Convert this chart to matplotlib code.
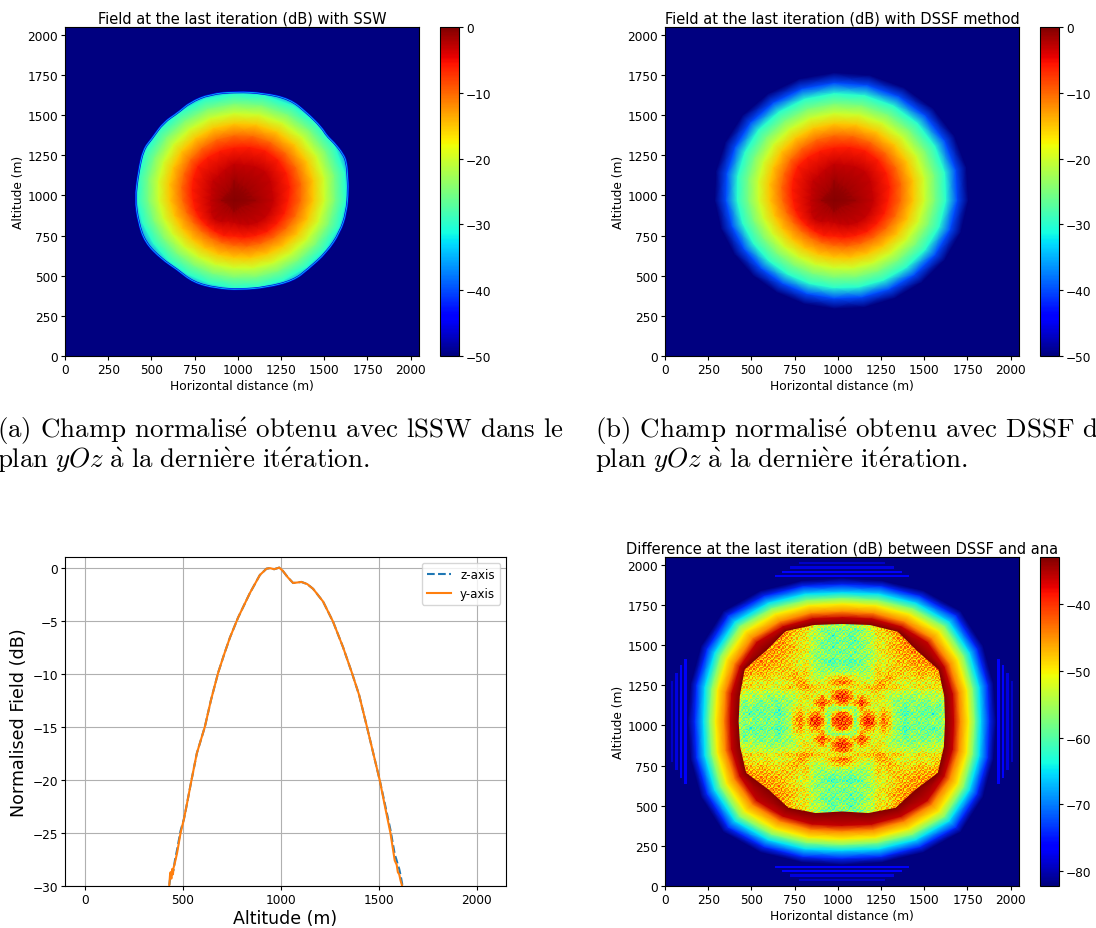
#%% Import the required libraries
import numpy as np
import matplotlib
matplotlib.use('Agg')
import matplotlib.pyplot as plt
from matplotlib.patches import Polygon, PathPatch
from matplotlib.path import Path

plt.rcParams['mathtext.fontset'] = 'cm'

#%% Data
ticks = [0, 250, 500, 750, 1000, 1250, 1500, 1750, 2000]
directions = np.arange(0, 375, 15)   # degrees, last one closes the ring

# contour radius (m) around the field peak, one value per direction
ring_50 = [775, 791, 802, 809, 810, 805, 794, 782, 765, 748, 725, 706, 689, 676, 666, 661, 660, 665, 672, 686, 701, 718, 738, 758]
ring_40 = [710, 726, 737, 744, 745, 740, 729, 717, 700, 683, 660, 641, 624, 611, 601, 596, 595, 600, 607, 621, 636, 653, 673, 693]
ring_30 = [645, 661, 672, 679, 680, 675, 664, 652, 635, 618, 595, 576, 559, 546, 536, 531, 530, 535, 542, 556, 571, 588, 608, 628]
ring_25 = [580, 596, 607, 614, 615, 610, 599, 587, 570, 553, 530, 511, 494, 481, 471, 466, 465, 470, 477, 491, 506, 523, 543, 563]
ring_20 = [520, 536, 547, 554, 555, 550, 539, 527, 510, 493, 470, 451, 434, 421, 411, 406, 405, 410, 417, 431, 446, 463, 483, 503]
ring_15 = [455, 471, 482, 489, 490, 485, 474, 462, 445, 428, 405, 386, 369, 356, 346, 341, 340, 345, 352, 366, 381, 398, 418, 438]
ring_10 = [382, 398, 409, 416, 417, 412, 401, 389, 372, 355, 332, 313, 296, 283, 273, 268, 267, 272, 279, 293, 308, 325, 345, 365]
ring_6 = [310, 330, 345, 355, 355, 340, 325, 315, 305, 295, 270, 250, 235, 230, 225, 220, 220, 225, 220, 235, 250, 270, 285, 300]
ring_3 = [225, 225, 240, 250, 240, 225, 225, 195, 175, 170, 150, 135, 135, 135, 150, 160, 150, 130, 135, 150, 170, 190, 205, 215]
ring_1 = [125, 105, 100, 100, 100, 105, 125, 75, 60, 60, 60, 65, 75, 55, 45, 45, 45, 55, 70, 60, 55, 55, 65, 90]
ring_0 = [0] * 24
field_levels = [-50, -40, -30, -25, -20, -15, -10, -6, -3, -1.5, 0]

# outline of the SSW field (m)
ssw_edge_x = [1639, 1635, 1629, 1610, 1556, 1514, 1485, 1398, 1301, 1147, 993, 839, 723, 656, 569, 501, 453, 424, 405, 424, 463, 559, 646, 742, 877, 1012, 1166, 1321, 1407, 1514, 1591, 1629]
ssw_edge_y = [1033, 1122, 1205, 1257, 1330, 1371, 1423, 1516, 1600, 1637, 1645, 1631, 1579, 1516, 1454, 1350, 1288, 1143, 977, 832, 707, 603, 541, 458, 421, 413, 427, 469, 541, 645, 769, 894]

# difference map: octant radii around the centre, repeated in each quadrant
diff_navy = [890, 905, 940, 970, 940, 905]
diff_blue = [850, 870, 900, 930, 900, 870]
diff_cyan = [800, 820, 850, 875, 850, 820]
diff_green = [765, 780, 810, 835, 810, 780]
diff_yellow = [730, 745, 770, 790, 770, 745]
diff_orange = [680, 695, 715, 730, 715, 695]
diff_red = [645, 660, 680, 695, 680, 660]
diff_levels = [-82.2, -74, -65, -57, -50, -44, -36, -33, -33]
diff_inner = [596, 612, 645, 618, 645, 622, 607, 622, 650, 622, 650, 612, 598, 610, 640, 600, 620, 590, 560, 590, 620, 600, 640, 610]

# side lobes outside the main ring, inner to outer
lobe_start = [899, 925, 951, 978]
lobe_end = [912, 938, 965, 992]
lobe_levels = [-77, -76, -78, -79]
lobe_half_width = [390, 350, 300, 250]

# interior of the difference map, one quadrant from the centre outwards (dB)
diff_quadrant = [
    [-41, -43, -57, -45, -40, -42, -50, -44, -48, -56, -57, -59, -57, -59, -57, -59, -56, -58, -55, -54],
    [-43, -50, -57, -50, -44, -47, -52, -46, -50, -56, -59, -61, -59, -57, -60, -58, -61, -57, -56, -53],
    [-57, -57, -55, -45, -52, -52, -53, -50, -52, -55, -57, -60, -56, -59, -57, -60, -57, -59, -55, -53],
    [-44, -50, -45, -41, -44, -52, -52, -52, -54, -57, -56, -59, -57, -56, -59, -57, -55, -58, -54, -52],
    [-40, -44, -52, -44, -50, -52, -50, -51, -55, -55, -57, -55, -58, -56, -55, -57, -54, -55, -53, -51],
    [-42, -47, -52, -52, -52, -50, -50, -52, -53, -54, -53, -55, -54, -56, -53, -54, -55, -53, -51, -49],
    [-50, -51, -50, -50, -49, -48, -46, -47, -50, -48, -50, -51, -53, -51, -50, -51, -50, -50, -49, -48],
    [-44, -46, -50, -52, -51, -52, -47, -46, -49, -51, -52, -53, -51, -50, -52, -51, -50, -49, -47, -46],
    [-48, -50, -52, -54, -55, -53, -50, -49, -47, -48, -50, -50, -50, -49, -48, -50, -49, -47, -46, -46],
    [-56, -56, -55, -57, -55, -54, -48, -51, -48, -50, -48, -50, -49, -48, -47, -48, -47, -46, -45, -44],
    [-57, -59, -57, -56, -57, -53, -50, -52, -50, -48, -49, -47, -48, -46, -47, -46, -45, -44, -44, -42],
    [-59, -61, -60, -59, -55, -55, -51, -53, -50, -50, -47, -48, -46, -47, -45, -46, -44, -43, -42, -38],
    [-57, -59, -56, -57, -58, -54, -53, -51, -50, -49, -48, -46, -47, -45, -46, -44, -43, -42, -38, -36],
    [-59, -57, -59, -56, -56, -56, -51, -50, -49, -48, -46, -47, -45, -46, -44, -43, -42, -38, -36, -36],
    [-57, -60, -57, -59, -55, -53, -50, -52, -48, -47, -47, -45, -46, -44, -43, -42, -38, -36, -36, -36],
    [-59, -58, -60, -57, -57, -54, -51, -51, -50, -48, -46, -46, -44, -43, -42, -38, -36, -36, -36, -36],
    [-56, -61, -57, -55, -54, -55, -50, -50, -49, -47, -45, -44, -43, -42, -38, -36, -36, -36, -36, -36],
    [-58, -57, -59, -58, -55, -53, -50, -49, -47, -46, -44, -43, -42, -38, -36, -36, -36, -36, -36, -36],
    [-55, -56, -55, -54, -53, -51, -49, -47, -46, -45, -44, -42, -38, -36, -36, -36, -36, -36, -36, -36],
    [-54, -53, -53, -52, -51, -49, -48, -46, -44, -42, -38, -36, -36, -36, -36, -36, -36, -36, -36, -36],
]

# small speckle seen on top of the interior (dB), repeated over it
speckle = [
    [3, -4, 1, 5, -2, -5, 2, 4, -3, 0, 5],
    [-5, 2, -3, 0, 4, 1, -4, -1, 5, -2, -3],
    [1, 5, -1, -4, 3, -2, 5, -5, 0, 3, -1],
    [-2, -3, 4, 2, -5, 5, 0, 2, -4, 4, 1],
    [4, 0, -5, 3, 1, -3, -2, 5, 2, -5, 3],
    [-4, 3, 2, -2, 5, 0, 4, -3, 1, -1, -4],
    [2, -1, 5, -4, -3, 4, -5, 1, 3, 2, 0],
    [5, -5, 0, 1, 2, -1, 3, -2, -4, 5, -2],
    [-1, 4, -2, 5, -4, 2, 1, 0, 4, -3, 2],
]

# profile through the peak
altitude = [0, 300, 425, 430, 434, 437, 441, 445, 449, 452, 459, 470, 488, 505, 518, 544, 571, 612, 643, 680, 710, 740, 782, 842, 893, 927, 945, 966, 992, 1010, 1035, 1063, 1085, 1105, 1135, 1165, 1216, 1267, 1318, 1363, 1400, 1440, 1505, 1531, 1560, 1582, 1592, 1598, 1605, 1612, 1620, 1625, 1800, 2048]
y_axis_db = [-50, -50, -50, -30, -29.0, -28.7, -29.3, -28.4, -28.9, -28.3, -27.8, -26.9, -25, -23.7, -22.5, -20, -17.5, -15, -12.5, -9.9, -8.2, -6.6, -4.7, -2.4, -0.7, -0.1, -0.05, -0.15, 0, -0.3, -0.9, -1.45, -1.4, -1.35, -1.55, -2, -3.2, -5.1, -7.5, -9.9, -12, -15, -20, -22.4, -25, -27.6, -28, -28.7, -28.9, -29.5, -30, -50, -50, -50]
z_axis_db = [-50, -50, -50, -30, -29.4, -28.9, -29.0, -28.7, -28.6, -28.5, -27.6, -26.6, -24.8, -23.7, -22.5, -20, -17.5, -15, -12.5, -9.9, -8.2, -6.6, -4.7, -2.4, -0.7, -0.1, -0.05, -0.15, 0, -0.3, -0.9, -1.45, -1.4, -1.35, -1.55, -2, -3.2, -5.1, -7.5, -9.9, -12, -15, -20, -22.2, -24.7, -27.0, -27.6, -28.0, -28.4, -29.0, -29.8, -50, -50, -50]


#%% helpers
W, H = 1096, 929
NAVY = (0, 0, 0.5)

def px_axes(fig, left, top, right, bottom):
    return fig.add_axes([left / W, 1 - bottom / H, (right - left) / W, (bottom - top) / H])

def ring_field(ax, centre, rings, levels, vmin, vmax):
    # each ring is a closed contour, gouraud shading fills between them
    theta = np.deg2rad(directions)
    R = np.array([list(r) + [r[0]] for r in rings], dtype=float)
    X = centre[0] + R * np.cos(theta)
    Y = centre[1] + R * np.sin(theta)
    C = np.repeat(np.array(levels, dtype=float)[:, None], len(directions), axis=1)
    return ax.pcolormesh(X, Y, C, shading='gouraud', cmap='jet', vmin=vmin, vmax=vmax)

def field_axes(fig, left, top, title):
    ax = px_axes(fig, left, top, left + 354, top + 329)
    ax.set_facecolor(NAVY)
    ax.set_title(title, fontsize=10.55, pad=3.5)
    ax.set_xlabel('Horizontal distance (m)', fontsize=8.8, labelpad=2)
    ax.set_ylabel('Altitude (m)', fontsize=8.8, labelpad=2)
    cax = px_axes(fig, left + 375, top, left + 394, top + 329)
    return ax, cax

def finish(fig, ax, cax, mesh, cb_ticks):
    ax.set_xlim(0, 2048)
    ax.set_ylim(0, 2048)
    ax.set_xticks(ticks)
    ax.set_yticks(ticks)
    ax.tick_params(labelsize=8.7, length=3, pad=2)
    cb = fig.colorbar(mesh, cax=cax, ticks=cb_ticks)
    cb.ax.tick_params(labelsize=8.7, length=3, pad=2)

def rounded_outline(x, y):
    # closed quadratic spline through the midpoints of the outline
    pts = np.column_stack([x, y])
    mids = (pts + np.roll(pts, -1, axis=0)) / 2
    verts = [mids[-1]]
    codes = [Path.MOVETO]
    for p, m in zip(pts, mids):
        verts += [p, m]
        codes += [Path.CURVE3, Path.CURVE3]
    return Path(verts, codes)

def smooth(arr, n=3):
    out = arr
    for axis in (0, 1):
        out = np.apply_along_axis(
            lambda m: np.convolve(np.pad(m, n // 2, mode='edge'), np.ones(n) / n, 'valid'), axis, out)
    return out

def caption(x, y, words):
    fig.text(x / W, 1 - y / H, words, fontsize=19.4, ha='left', va='baseline')


#%% figure
fig = plt.figure(figsize=(W / 100, H / 100), dpi=100)
field_rings = [ring_50, ring_40, ring_30, ring_25, ring_20, ring_15, ring_10, ring_6, ring_3, ring_1, ring_0]

# SSW field, same rings but cut at its outline
ax, cax = field_axes(fig, 65, 28, 'Field at the last iteration (dB) with SSW')
mesh = ring_field(ax, (978, 968), field_rings, field_levels, -50, 0)
outline = rounded_outline(ssw_edge_x, ssw_edge_y)
mesh.set_clip_path(PathPatch(outline, transform=ax.transData))
ax.add_patch(PathPatch(outline, fill=False, edgecolor='#0000e0', lw=1.5, zorder=4))
ax.add_patch(PathPatch(outline, fill=False, edgecolor='#00b8ff', lw=0.6, zorder=5))
finish(fig, ax, cax, mesh, [0, -10, -20, -30, -40, -50])

# DSSF field
ax, cax = field_axes(fig, 665, 28, 'Field at the last iteration (dB) with DSSF method')
mesh = ring_field(ax, (978, 968), field_rings, field_levels, -50, 0)
finish(fig, ax, cax, mesh, [0, -10, -20, -30, -40, -50])

# profile
ax = px_axes(fig, 65, 558, 506, 887)
ax.plot(altitude, z_axis_db, '--', lw=1.5, label='z-axis')
ax.plot(altitude, y_axis_db, '-', lw=1.5, label='y-axis')
ax.set_xlim(-102.4, 2150.4)
ax.set_ylim(-30, 1)
ax.set_xticks([0, 500, 1000, 1500, 2000])
ax.set_yticks([0, -5, -10, -15, -20, -25, -30])
ax.tick_params(labelsize=8.7, length=3, pad=2)
ax.grid(True)
ax.set_xlabel('Altitude (m)', fontsize=12.5, labelpad=2)
ax.set_ylabel('Normalised Field (dB)', fontsize=12.6, labelpad=3)
ax.legend(loc='upper right', fontsize=8.6)

# difference map
ax, cax = field_axes(fig, 665, 558, 'Difference at the last iteration (dB) between DSSF and ana')
rings = [np.tile(r, 4) for r in (diff_navy, diff_blue, diff_cyan, diff_green, diff_yellow, diff_orange, diff_red)]
mesh = ring_field(ax, (1024, 1024), rings + [diff_inner, ring_0], diff_levels, -82.2, -33)

# side lobes on the four sides
for r0, r1, level, half in zip(lobe_start, lobe_end, lobe_levels, lobe_half_width):
    for sign in (1, -1):
        ax.pcolormesh([1024 - half, 1024 + half], [1024 + sign * r0, 1024 + sign * r1], [[level]],
                      cmap='jet', vmin=-82.2, vmax=-33)
        ax.pcolormesh([1024 + sign * r0, 1024 + sign * r1], [1024 - half, 1024 + half], [[level]],
                      cmap='jet', vmin=-82.2, vmax=-33)

quad = np.array(diff_quadrant, dtype=float)
top = np.hstack([np.fliplr(quad), quad])
full = np.vstack([np.flipud(top), top])
fine = smooth(np.kron(full, np.ones((4, 4))))
fine = fine + np.tile(speckle, (18, 15))[:fine.shape[0], :fine.shape[1]] * 0.9
img = ax.imshow(fine, cmap='jet', vmin=-82.2, vmax=-33, origin='lower', aspect='auto',
                interpolation='nearest', extent=[1024 - 640, 1024 + 640, 1024 - 640, 1024 + 640], zorder=3)
theta = np.deg2rad(directions[:-1])
inner = np.column_stack([1024 + np.array(diff_inner) * np.cos(theta), 1024 + np.array(diff_inner) * np.sin(theta)])
img.set_clip_path(Polygon(inner, closed=True, transform=ax.transData))
finish(fig, ax, cax, mesh, [-40, -50, -60, -70, -80])

# captions
gap = r'\hspace{0.38}'
caption(-3, 438, r'$\mathrm{(a)' + gap + 'Champ' + gap + r'normalis\acute{e}' + gap + 'obtenu' + gap + 'avec' + gap + 'lSSW' + gap + 'dans' + gap + 'le}$')
caption(-3, 468, r'$\mathrm{plan}\ yOz\ \mathrm{\grave{a}\ la\ derni\grave{e}re\ it\acute{e}ration.}$')
caption(595, 438, r'$\mathrm{(b)' + gap + 'Champ' + gap + r'normalis\acute{e}' + gap + 'obtenu' + gap + 'avec' + gap + 'DSSF' + gap + 'dans' + gap + 'le}$')
caption(595, 468, r'$\mathrm{plan}\ yOz\ \mathrm{\grave{a}\ la\ derni\grave{e}re\ it\acute{e}ration.}$')

fig.savefig('out.png', dpi=100)
